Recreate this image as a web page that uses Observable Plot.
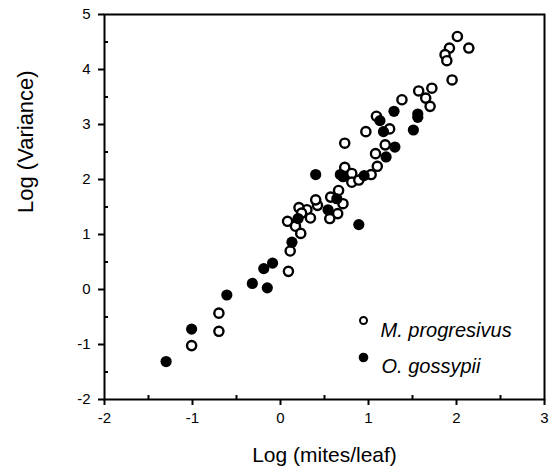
<!DOCTYPE html>
<html><head><meta charset="utf-8">
<script src="https://cdn.jsdelivr.net/npm/d3@7"></script>
<script src="https://cdn.jsdelivr.net/npm/@observablehq/plot@0.6"></script>
<style>
body{margin:0;background:#fff;}
#chart svg{font-family:"Liberation Sans",Arial,Helvetica,sans-serif;}
</style>
</head><body><div id="chart"></div>
<script>
// M. progresivus (open circles)
const mpX = [2.01,1.92,2.14,1.87,1.89,1.95,1.57,1.72,1.65,1.70,1.38,1.09,1.24,0.97,0.73,1.19,1.08,1.10,1.03,0.73,0.81,0.81,0.89,0.66,0.57,0.71,0.65,0.56,0.42,0.40,0.30,0.34,0.21,0.24,0.08,0.17,0.23,0.11,0.09,-0.70,-0.70,-1.01];
const mpY = [4.60,4.39,4.39,4.27,4.16,3.81,3.61,3.66,3.48,3.33,3.45,3.15,2.92,2.87,2.66,2.63,2.47,2.24,2.09,2.22,2.11,1.95,1.99,1.80,1.68,1.56,1.38,1.29,1.53,1.63,1.45,1.30,1.49,1.39,1.24,1.15,1.02,0.70,0.33,-0.43,-0.76,-1.02];
// O. gossypii (filled circles)
const ogX = [-1.30,-1.01,-0.61,-0.32,-0.19,-0.09,-0.15,0.13,0.20,0.40,0.54,0.64,0.68,0.71,0.89,0.95,1.13,1.17,1.29,1.30,1.20,1.51,1.56,1.56];
const ogY = [-1.31,-0.72,-0.10,0.11,0.38,0.48,0.03,0.86,1.29,2.09,1.45,1.65,2.09,2.05,1.18,2.07,3.07,2.87,3.24,2.59,2.41,2.90,3.19,3.13];

const seriesNames = ["M. progresivus", "O. gossypii"];
const xTicks = [-2,-1,0,1,2,3];
const xMinor = [-1.5,-0.5,0.5,1.5,2.5];
const yTicks = [-2,-1,0,1,2,3,4,5];
const yMinor = [-1.5,-0.5,0.5,1.5,2.5,3.5,4.5];
const xTitle = "Log (mites/leaf)";
const yTitle = "Log (Variance)";

const mp = mpX.map((x,i)=>({x, y:mpY[i]}));
const og = ogX.map((x,i)=>({x, y:ogY[i]}));

const W = 553, H = 475, ML = 104, MR = 9, MT = 14, MB = 76;
const FW = W - ML - MR, FH = H - MT - MB;

const plot = Plot.plot({
  width:W, height:H,
  marginLeft:ML, marginRight:MR, marginTop:MT, marginBottom:MB,
  style:{fontFamily:"'Liberation Sans', Arial, sans-serif", fontSize:"15px", color:"#000", background:"#fff"},
  x:{domain:[-2,3]},
  y:{domain:[-2,5]},
  marks:[
    Plot.axisX({ticks:xTicks, tickSize:0, tickPadding:13, tickFormat:d=>String(d), label:null, fontSize:15}),
    Plot.axisY({ticks:yTicks, tickSize:0, tickPadding:14, tickFormat:d=>String(d), label:null, fontSize:15}),
    // major ticks (outward)
    Plot.tickX(xTicks, {x:d=>d, insetTop:FH, insetBottom:-6, stroke:"#000", strokeWidth:2}),
    Plot.tickY(yTicks, {y:d=>d, insetRight:FW, insetLeft:-6, stroke:"#000", strokeWidth:2}),
    // minor ticks (inward)
    Plot.tickX(xMinor, {x:d=>d, insetTop:FH-4, insetBottom:0, stroke:"#000", strokeWidth:2}),
    Plot.tickY(yMinor, {y:d=>d, insetRight:FW-4, insetLeft:0, stroke:"#000", strokeWidth:2}),
    Plot.frame({stroke:"#000", strokeWidth:2}),
    Plot.dot(mp, {x:"x", y:"y", r:4.6, stroke:"#000", strokeWidth:2.4, fill:"#fff"}),
    Plot.dot(og, {x:"x", y:"y", r:5.6, fill:"#000"}),
    Plot.dot([seriesNames[0]], {frameAnchor:"top-left", dx:259, dy:306, r:3.5, stroke:"#000", strokeWidth:2, fill:"#fff"}),
    Plot.dot([seriesNames[1]], {frameAnchor:"top-left", dx:259, dy:343, r:4.8, fill:"#000"}),
    Plot.text([seriesNames[0]], {frameAnchor:"top-left", dx:276, dy:308, textAnchor:"start", fontStyle:"italic", fontSize:20}),
    Plot.text([seriesNames[1]], {frameAnchor:"top-left", dx:277, dy:344, textAnchor:"start", fontStyle:"italic", fontSize:20}),
    Plot.text([xTitle], {frameAnchor:"bottom", dy:62, fontSize:21}),
    Plot.text([yTitle], {frameAnchor:"left", dx:-79, dy:6, rotate:-90, fontSize:22})
  ]
});
document.getElementById("chart").appendChild(plot);
</script>
</body></html>
